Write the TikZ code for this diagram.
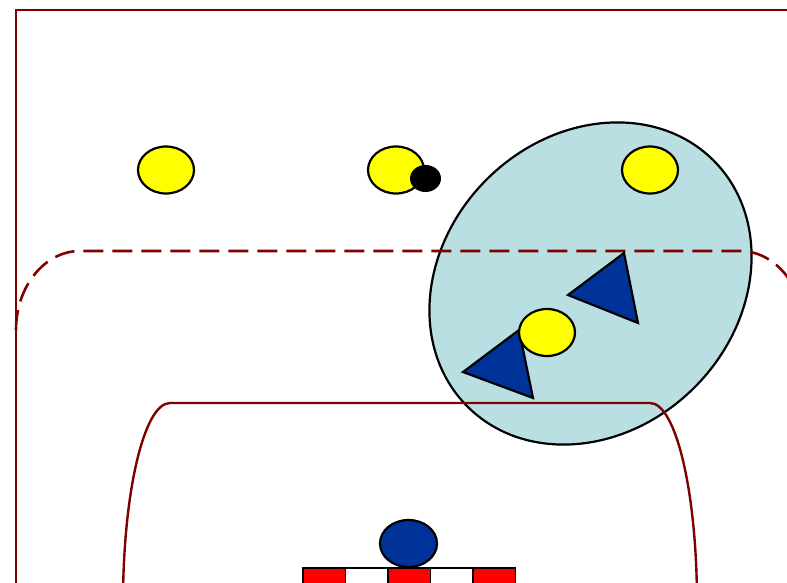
\documentclass[tikz,border=0pt]{standalone}
\usetikzlibrary{shapes.geometric}
\definecolor{fieldred}{RGB}{128,0,0}
\definecolor{zoneblue}{RGB}{185,223,227}
\definecolor{teamblue}{RGB}{0,51,153}
\definecolor{ballyellow}{RGB}{255,255,0}
\tikzset{
  fieldline/.style={draw=fieldred, line width=2.4pt},
  zoneline/.style={draw=fieldred, line width=2.6pt, dash pattern=on 20pt off 9pt},
  player/.style={ellipse, draw=black, line width=2.2pt, inner sep=0pt, minimum width=56pt, minimum height=47pt},
  attacker/.style={player, fill=ballyellow},
  keeper/.style={player, fill=teamblue},
  defender/.style={draw=black, line width=2.2pt, fill=teamblue, line join=miter},
  ballnode/.style={ellipse, fill=black, inner sep=0pt, minimum width=31pt, minimum height=27pt},
  goalbox/.style={draw=black, line width=1.6pt}
}
\begin{document}
\begin{tikzpicture}[x=1pt,y=1pt]
\useasboundingbox (0,0) rectangle (787,582);
\clip (0,0) rectangle (787,582);
% outer border
\draw[fieldline] (16,-20) -- (16,572) -- (800,572);
% zone ellipse
\draw[draw=black, fill=zoneblue, line width=2.2pt, rotate around={45:(590.5pt,298.5pt)}] (590.5,298.5) ellipse (174pt and 147pt);
% dashed line
\draw[zoneline] (16,252) arc[start angle=180, end angle=90, x radius=64, y radius=79]
  -- (740,331) arc[start angle=90, end angle=0, x radius=64, y radius=79];
% inner solid line
\draw[fieldline] (123,-40) -- (123,-21) arc[start angle=180, end angle=90, x radius=47, y radius=200]
  -- (650,179) arc[start angle=90, end angle=0, x radius=47, y radius=200] -- (697,-40);
% defenders (triangles)
\coordinate (ta1) at (624,329);
\coordinate (ta2) at (568,287);
\coordinate (ta3) at (638,259);
\draw[defender] (ta1) -- (ta2) -- (ta3) -- cycle;
\coordinate (tb1) at (519,252);
\coordinate (tb2) at (463,210);
\coordinate (tb3) at (533,184);
\draw[defender] (tb1) -- (tb2) -- (tb3) -- cycle;
% attackers
\node[attacker] (y1) at (166,412) {};
\node[attacker] (y2) at (396,412) {};
\node[attacker] (y3) at (650,412) {};
\node[attacker] (y4) at (547,249.5) {};
% ball
\node[ballnode] (ball) at (425.5,403.5) {};
% goalkeeper
\node[keeper, minimum width=57pt] (gk) at (408.5,38.5) {};
% goal
\fill[red] (303,-20) rectangle (345.5,14);
\fill[white] (345.5,-20) rectangle (388,14);
\fill[red] (388,-20) rectangle (430.5,14);
\fill[white] (430.5,-20) rectangle (473,14);
\fill[red] (473,-20) rectangle (515.5,14);
\draw[goalbox] (303,-20) rectangle (515.5,14);
\draw[goalbox] (345.5,-20) -- (345.5,14);
\draw[goalbox] (388,-20) -- (388,14);
\draw[goalbox] (430.5,-20) -- (430.5,14);
\draw[goalbox] (473,-20) -- (473,14);
\end{tikzpicture}
\end{document}
